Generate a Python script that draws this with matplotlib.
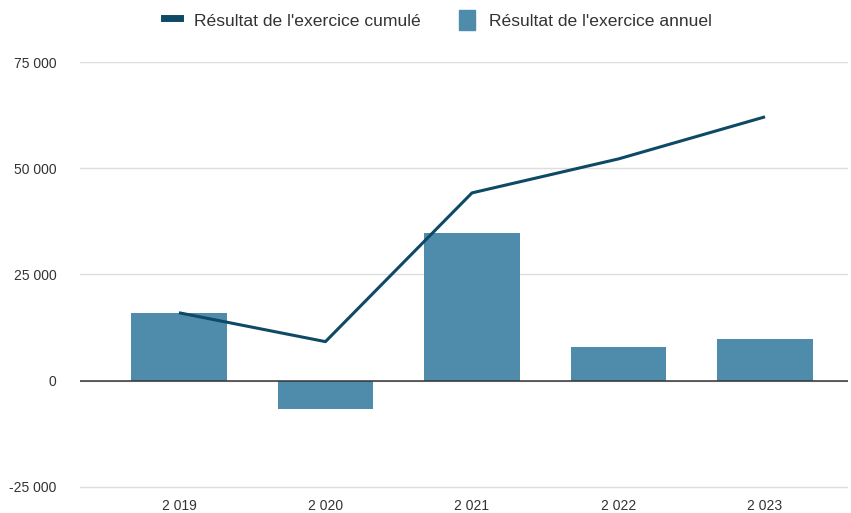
import numpy as np
import matplotlib.pyplot as plt
from matplotlib.lines import Line2D
from matplotlib.patches import Patch
from matplotlib.ticker import FuncFormatter

plt.rcParams['font.family'] = ['Liberation Sans', 'DejaVu Sans']

years = ['2 019', '2 020', '2 021', '2 022', '2 023']
annuel = [16000, -6600, 34800, 8000, 9900]
cumule = [16000, 9200, 44200, 52200, 62100]

bar_col = '#4f8bab'
line_col = '#0e4a66'

fig = plt.figure(figsize=(8.51, 5.13), dpi=100)
# axes spans y=-25500..75000 so the bottom gridline is not clipped
ax = fig.add_axes([80/851, 23.9/513, 768/851, 427.1/513])

x = np.arange(len(years))
ax.bar(x, annuel, width=0.65, color=bar_col, zorder=2)
ax.plot(x, cumule, color=line_col, lw=2.2, zorder=3, solid_capstyle='butt')
ax.axhline(0, color='#333333', lw=1.1, zorder=2.5)

ax.set_ylim(-25500, 75000)
ax.set_xlim(-0.675, 4.566)
ax.set_yticks([-25000, 0, 25000, 50000, 75000])
ax.yaxis.set_major_formatter(FuncFormatter(lambda v, p: f'{int(v):,}'.replace(',', ' ')))
ax.set_xticks(x)
ax.set_xticklabels(years)
ax.grid(axis='y', color='#dddddd', lw=1, zorder=0)
ax.tick_params(axis='both', length=0, labelsize=10, colors='#333333')
ax.tick_params(axis='y', pad=17)
ax.tick_params(axis='x', pad=7)
for s in ax.spines.values():
    s.set_visible(False)

handles = [Line2D([0], [0], color=line_col, lw=5),
           Patch(color=bar_col)]
fig.legend(handles, ["Résultat de l'exercice cumulé", "Résultat de l'exercice annuel"],
           loc='upper center', bbox_to_anchor=(0.515, 1.012), ncol=2, frameon=False,
           fontsize=12.6, handlelength=0.9, handleheight=1.4, columnspacing=2.2,
           handletextpad=0.8, labelcolor='#333333')

fig.savefig('out.png', dpi=100)
